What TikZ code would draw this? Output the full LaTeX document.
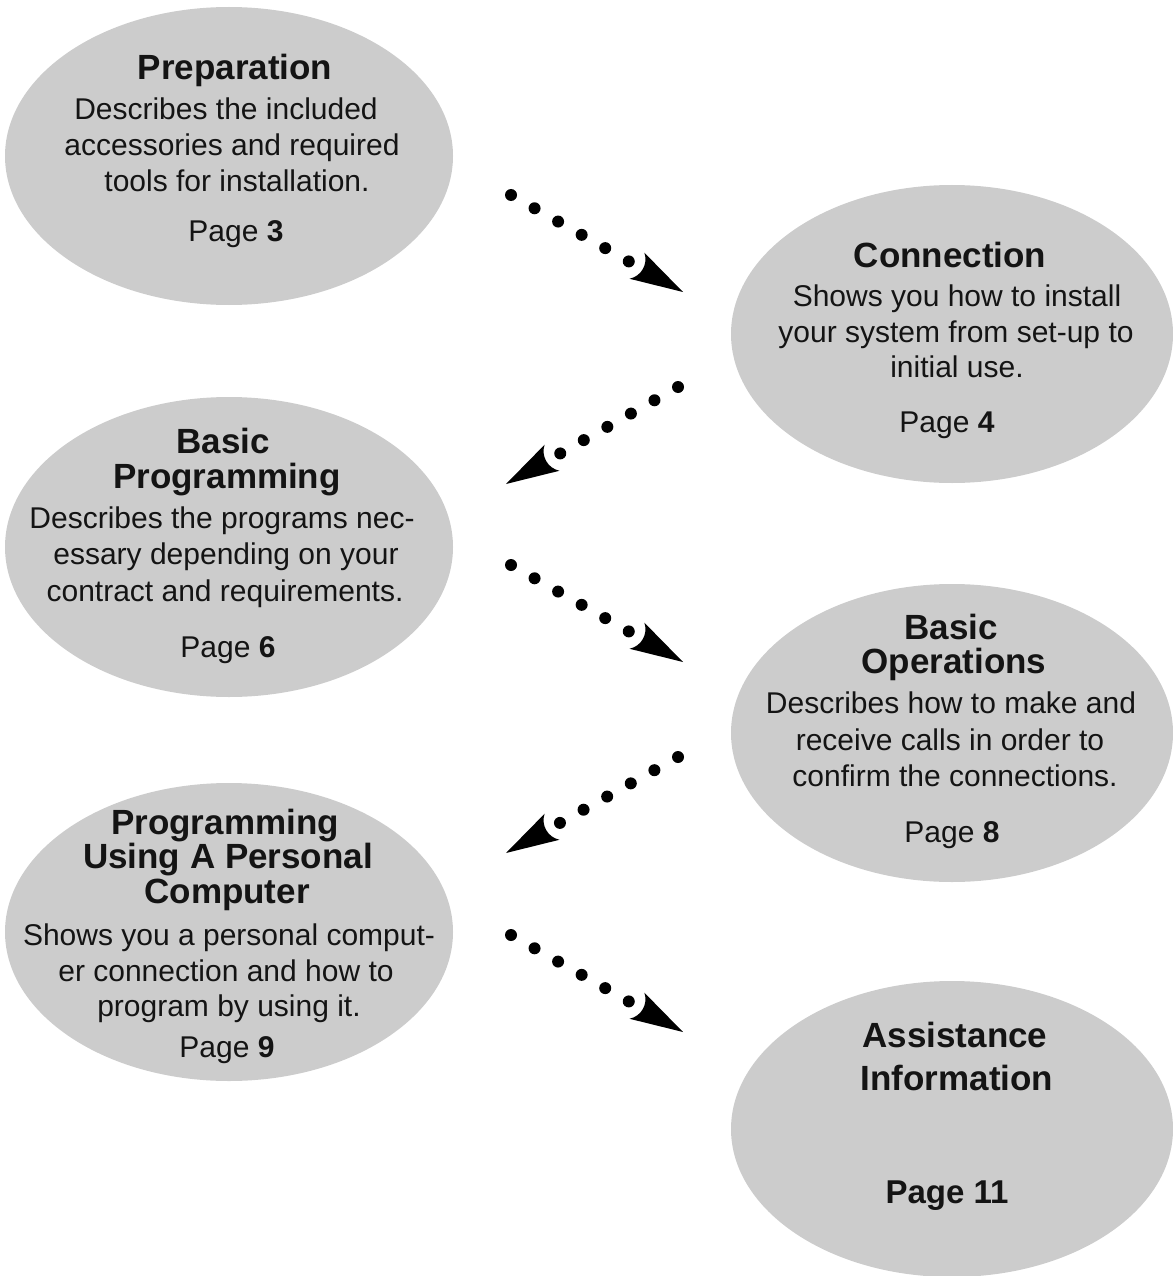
\documentclass[tikz,border=0pt]{standalone}
\usepackage{fontspec}
\setmainfont{Liberation Sans}
\usetikzlibrary{shapes.geometric,calc}
\definecolor{blobgray}{RGB}{204,204,204}
\definecolor{inkc}{RGB}{20,20,20}
\begin{document}
\begin{tikzpicture}[x=1pt,y=1pt,
  blob/.style={ellipse, fill=blobgray, inner sep=0pt, minimum width=448pt, minimum height=298pt},
  ttl/.style={font=\bfseries\fontsize{35}{35}\selectfont, anchor=base, inner sep=0pt, text=inkc},
  bd/.style={font=\fontsize{30}{36}\selectfont, anchor=base, inner sep=0pt, text=inkc},
  pg/.style={font=\bfseries\fontsize{33}{33}\selectfont, anchor=base, inner sep=0pt, text=inkc},
  dotconn/.style={line width=12pt, line cap=round, dash pattern=on 0pt off 27.04pt, shorten >=55pt},
  headshape/.style={fill=black}
]
\useasboundingbox (0,0) rectangle (1172,-1276);

% ellipses
\node[blob] (prep)   at (229,-156)  {};
\node[blob, minimum width=442pt] (conn)   at (952,-334)  {};
\node[blob, minimum height=300pt] (bprog)  at (229,-547)  {};
\node[blob, minimum width=442pt] (bops)   at (952,-733)  {};
\node[blob] (pc)     at (229,-932)  {};
\node[blob, minimum width=442pt, minimum height=296pt] (assist) at (952,-1129) {};

% Preparation
\node[ttl] (prepT)  at (235,-80)  {Preparation};
\node[bd]  (prepB1) at (226,-120) {Describes the included};
\node[bd]  (prepB2) at (232,-156) {accessories and required};
\node[bd]  (prepB3) at (237,-192) {tools for installation.};
\node[bd]  (prepP)  at (236,-241) {Page \textbf{3}};

% Connection
\node[ttl] (connT)  at (950,-267) {Connection};
\node[bd]  (connB1) at (957,-306) {Shows you how to install};
\node[bd]  (connB2) at (956,-342) {your system from set-up to};
\node[bd]  (connB3) at (957,-377) {initial use.};
\node[bd]  (connP)  at (947,-432) {Page \textbf{4}};

% Basic Programming
\node[ttl] (bprogT1) at (223,-453) {Basic};
\node[ttl] (bprogT2) at (227,-488) {Programming};
\node[bd]  (bprogB1) at (222,-528) {Describes the programs nec-};
\node[bd]  (bprogB2) at (226,-564) {essary depending on your};
\node[bd]  (bprogB3) at (225,-601) {contract and requirements.};
\node[bd]  (bprogP)  at (228,-657) {Page \textbf{6}};

% Basic Operations
\node[ttl] (bopsT1) at (951,-639) {Basic};
\node[ttl] (bopsT2) at (954,-673) {Operations};
\node[bd]  (bopsB1) at (951,-713) {Describes how to make and};
\node[bd]  (bopsB2) at (950,-750) {receive calls in order to};
\node[bd]  (bopsB3) at (955,-786) {confirm the connections.};
\node[bd]  (bopsP)  at (952,-842) {Page \textbf{8}};

% Programming Using A Personal Computer
\node[ttl] (pcT1) at (225,-834)  {Programming};
\node[ttl] (pcT2) at (228,-868)  {Using A Personal};
\node[ttl] (pcT3) at (227,-903)  {Computer};
\node[bd]  (pcB1) at (229,-945)  {Shows you a personal comput-};
\node[bd]  (pcB2) at (226,-981)  {er connection and how to};
\node[bd]  (pcB3) at (229,-1016) {program by using it.};
\node[bd]  (pcP)  at (227,-1057) {Page \textbf{9}};

% Assistance Information
\node[ttl] (asT1) at (955,-1047) {Assistance};
\node[ttl] (asT2) at (957,-1090) {Information};
\node[pg]  (asP)  at (947,-1203) {Page 11};

% connector end points
\coordinate (s1) at (511,-195);  \coordinate (t1) at (683,-292);
\coordinate (s2) at (678,-387);  \coordinate (t2) at (506,-484);
\coordinate (s3) at (511,-565);  \coordinate (t3) at (683,-662);
\coordinate (s4) at (678,-757);  \coordinate (t4) at (506,-853);
\coordinate (s5) at (511,-935);  \coordinate (t5) at (683,-1032);

% dotted connectors
\foreach \i in {1,...,5} {
  \draw[dotconn] (s\i) -- (t\i);
}
% arrow heads
\foreach \i/\a in {1/-29.7,3/-29.7,5/-29.7,2/-150.3,4/-150.3} {
  \fill[headshape, shift={(t\i)}, rotate=\a]
    (0,0) -- (-53,15) .. controls (-44,7) and (-44,-7) .. (-53,-15) -- cycle;
}
\end{tikzpicture}
\end{document}
